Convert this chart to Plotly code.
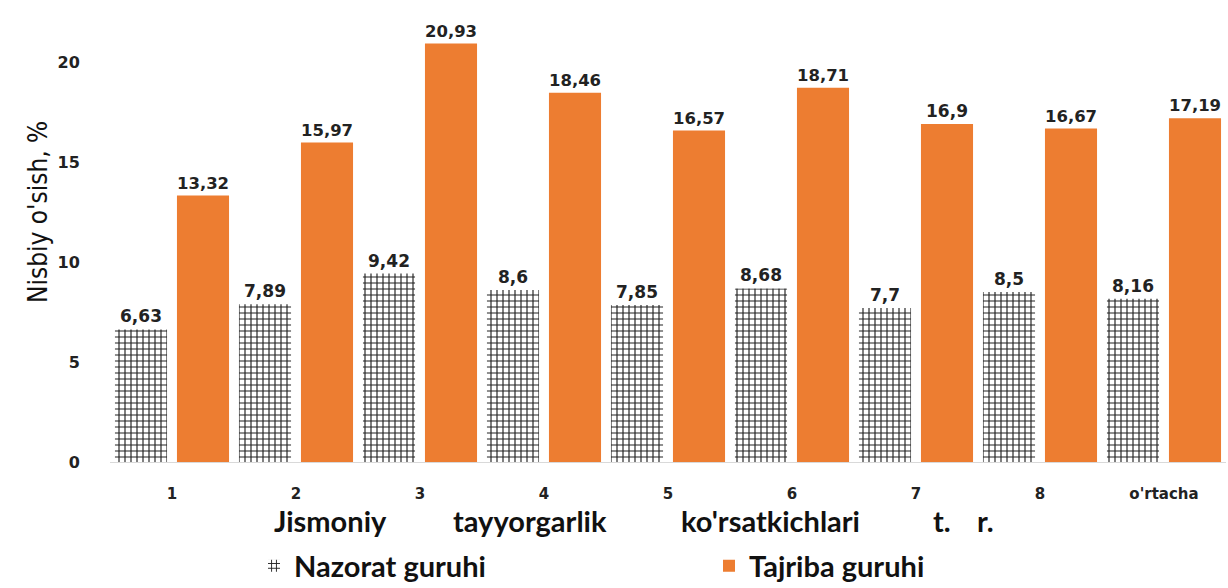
import plotly.graph_objects as go

categories = ["1", "2", "3", "4", "5", "6", "7", "8", "o'rtacha"]
nazorat = [6.63, 7.89, 9.42, 8.6, 7.85, 8.68, 7.7, 8.5, 8.16]
tajriba = [13.32, 15.97, 20.93, 18.46, 16.57, 18.71, 16.9, 16.67, 17.19]
y_ticks = [0, 5, 10, 15, 20]
x_title_words = ["Jismoniy", "tayyorgarlik", "ko'rsatkichlari", "t.", "r."]
x_title_centers_px = [330, 530, 770, 942, 985]

W, H = 1228, 588
ML, MR, MT, MB = 110, 2, 22, 126
PW = W - ML - MR
PH = H - MT - MB

def lbl(vals):
    return [str(v).replace(".", ",") for v in vals]

label_font = dict(family="DejaVu Sans", size=17, color="#222222", weight="bold")

fig = go.Figure()
fig.add_trace(go.Bar(
    x=categories, y=nazorat, name="Nazorat guruhi",
    text=lbl(nazorat), textposition="outside", textfont=label_font,
    cliponaxis=False,
    marker=dict(color="white", line=dict(width=0),
                pattern=dict(shape="+", size=6, solidity=0.35,
                             fgcolor="#222222", bgcolor="white", fillmode="replace")),
))
fig.add_trace(go.Bar(
    x=categories, y=tajriba, name="Tajriba guruhi",
    text=lbl(tajriba), textposition="outside", textfont=label_font,
    cliponaxis=False,
    marker=dict(color="#ED7D31", line=dict(width=0)),
))

fig.update_layout(
    width=W, height=H,
    paper_bgcolor="white", plot_bgcolor="white",
    margin=dict(l=ML, r=MR, t=MT, b=MB, autoexpand=False),
    barmode="group", bargap=0.0, bargroupgap=0.16,
    showlegend=True,
    legend=dict(orientation="h", x=(254 - ML) / PW, y=22 / H, xref="paper", yref="container",
                xanchor="left", yanchor="middle",
                font=dict(family="Lato", size=29, color="#111111", weight="bold"),
                itemwidth=30, entrywidth=410, entrywidthmode="pixels",
                traceorder="normal", bgcolor="rgba(0,0,0,0)"),
    font=dict(family="DejaVu Sans"),
)
fig.update_yaxes(
    range=[0, 22], tickvals=y_ticks, showgrid=False, zeroline=False, showline=False,
    automargin=False,
    ticks="outside", ticklen=26, tickcolor="rgba(0,0,0,0)",
    tickfont=dict(family="DejaVu Sans", size=16, color="#222222", weight="bold"),
)
fig.update_xaxes(
    showgrid=False, showline=True, linecolor="#D9D9D9", linewidth=1,
    automargin=False,
    ticks="outside", ticklen=18, tickcolor="rgba(0,0,0,0)",
    tickfont=dict(family="DejaVu Sans", size=15, color="#222222", weight="bold"),
)
# y-axis title
fig.add_annotation(
    text="Nisbiy o'sish, %", xref="paper", yref="paper",
    x=-(ML - 38) / PW, y=(MT + PH - 212) / PH, xanchor="center", yanchor="middle",
    textangle=-90, showarrow=False,
    font=dict(family="DejaVu Sans Condensed", size=26, color="#111111"),
)
# x-axis title
for word, cx in zip(x_title_words, x_title_centers_px):
    fig.add_annotation(
        text=word, xref="paper", yref="paper", x=(cx - ML) / PW, y=-(520 - (MT + PH)) / PH,
        xanchor="center", yanchor="middle", showarrow=False,
        font=dict(family="Lato", size=29, color="#111111", weight="bold"),
    )
fig.write_html("out.html", config={"displayModeBar": False},
               post_script="document.body.style.margin='0';document.body.style.overflow='hidden';")
